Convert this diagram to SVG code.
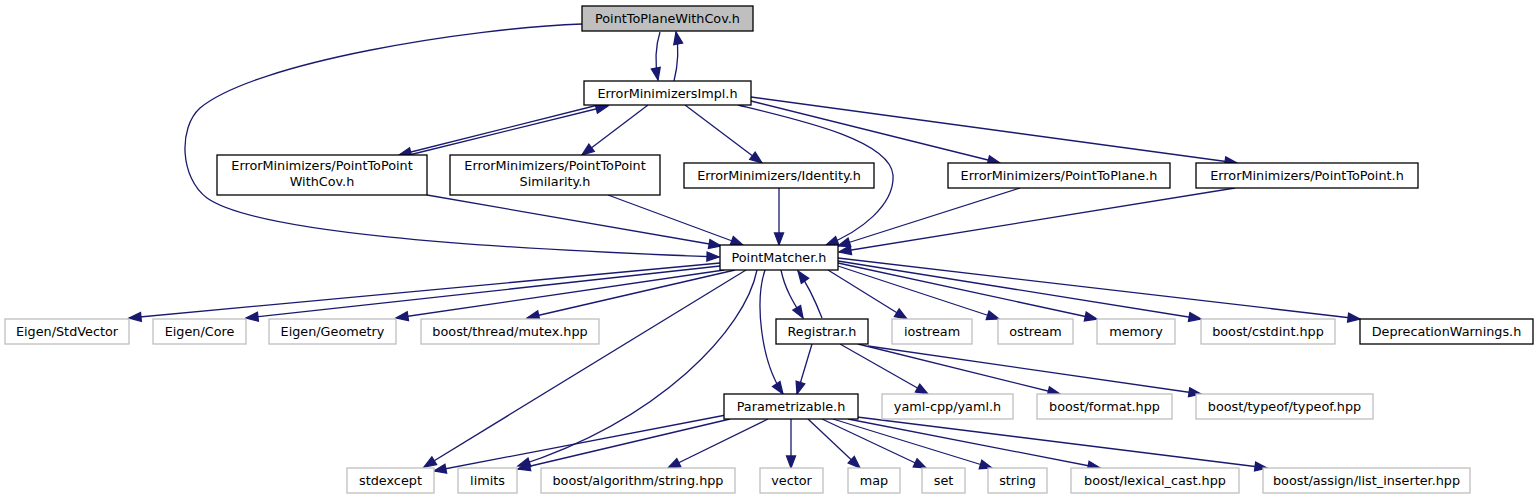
<svg xmlns="http://www.w3.org/2000/svg" width="1538" height="500" viewBox="0 0 1538 500">
<style>
.n rect{fill:#fff;stroke:#000;stroke-width:1.3}
.g rect{fill:#fff;stroke:#bfbfbf;stroke-width:1.3}
.root rect{fill:#bfbfbf;stroke:#000;stroke-width:1.3}
text{font-family:"DejaVu Sans","Liberation Sans",sans-serif;font-size:12.8px;fill:#000;text-anchor:middle}
#edges path{fill:none;stroke:#191970;stroke-width:1.3;marker-end:url(#ah)}
</style>
<defs>
<marker id="ah" markerWidth="13" markerHeight="10" refX="12" refY="4.5" orient="auto" markerUnits="userSpaceOnUse" overflow="visible"><path d="M0,0 L12,4.5 L0,9 z" fill="#191970" stroke="#191970" stroke-width="1.3"/></marker>
</defs>
<rect x="0" y="0" width="1538" height="500" fill="#fff"/>
<g id="edges">
<path d="M660,32 C655,48 655,64 658,80"/>
<path d="M674,81 C678,65 679,48 676,32"/>
<path d="M582,24 C470,28 255,62 200,108 C178,128 180,178 207,198 C255,232 470,248 719,257"/>
<path d="M598,105 L399,155"/>
<path d="M409,155 L608,106"/>
<path d="M648,105 L582,155"/>
<path d="M685,105 L762,163"/>
<path d="M738,105 C800,120 890,140 893,175 C895,205 860,232 826,245"/>
<path d="M751,101 L1000,163"/>
<path d="M751,97 L1237,163"/>
<path d="M427,195 L721,246"/>
<path d="M608,195 L743,245"/>
<path d="M779,188 L779,245"/>
<path d="M1020,188 L838,246"/>
<path d="M1235,188 L839,252"/>
<path d="M720,263 L129,318"/>
<path d="M720,266 L246,318"/>
<path d="M724,270 L396,318"/>
<path d="M735,270 L527,318"/>
<path d="M746,270 L424,467"/>
<path d="M757,270 C745,330 660,420 518,466"/>
<path d="M765,270 C755,300 760,360 783,394"/>
<path d="M781,270 C785,290 795,305 803,318"/>
<path d="M822,318 C815,300 808,285 798,271"/>
<path d="M828,270 L907,319"/>
<path d="M838,266 L999,319"/>
<path d="M838,263 L1097,319"/>
<path d="M838,261 L1201,319"/>
<path d="M838,258 L1360,319"/>
<path d="M812,344 L797,394"/>
<path d="M840,344 L928,394"/>
<path d="M858,344 L1060,394"/>
<path d="M868,346 L1201,394"/>
<path d="M726,415 L434,471"/>
<path d="M730,419 L518,469"/>
<path d="M768,419 L668,468"/>
<path d="M791,419 L791,468"/>
<path d="M808,419 L860,468"/>
<path d="M822,419 L926,468"/>
<path d="M833,419 L992,468"/>
<path d="M848,419 L1100,468"/>
<path d="M857,417 L1267,468"/>
</g>
<g id="n_root" class="root"><rect x="582" y="6" width="171" height="25"/><text x="667.5" y="23">PointToPlaneWithCov.h</text></g>
<g id="n_impl" class="n"><rect x="584" y="81" width="167" height="24"/><text x="667.5" y="97.5">ErrorMinimizersImpl.h</text></g>
<g id="n_ptpcov" class="n"><rect x="217" y="155" width="210" height="40"/><text x="322" y="170">ErrorMinimizers/PointToPoint</text><text x="322" y="186">WithCov.h</text></g>
<g id="n_ptpsim" class="n"><rect x="450" y="155" width="210" height="40"/><text x="555" y="170">ErrorMinimizers/PointToPoint</text><text x="555" y="186">Similarity.h</text></g>
<g id="n_ident" class="n"><rect x="684" y="163" width="190" height="25"/><text x="779" y="180">ErrorMinimizers/Identity.h</text></g>
<g id="n_ptpl" class="n"><rect x="948" y="163" width="222" height="25"/><text x="1059" y="180">ErrorMinimizers/PointToPlane.h</text></g>
<g id="n_ptp" class="n"><rect x="1196" y="163" width="222" height="25"/><text x="1307" y="180">ErrorMinimizers/PointToPoint.h</text></g>
<g id="n_pm" class="n"><rect x="720" y="245" width="118" height="25"/><text x="779" y="262">PointMatcher.h</text></g>
<g id="n_stdvec" class="g"><rect x="5" y="319" width="124" height="25"/><text x="67" y="336">Eigen/StdVector</text></g>
<g id="n_core" class="g"><rect x="153" y="319" width="93" height="25"/><text x="199.5" y="336">Eigen/Core</text></g>
<g id="n_geom" class="g"><rect x="269" y="319" width="127" height="25"/><text x="332.5" y="336">Eigen/Geometry</text></g>
<g id="n_mutex" class="g"><rect x="421" y="319" width="178" height="25"/><text x="510" y="336">boost/thread/mutex.hpp</text></g>
<g id="n_reg" class="n"><rect x="776" y="319" width="92" height="25"/><text x="822" y="336">Registrar.h</text></g>
<g id="n_iostream" class="g"><rect x="892" y="319" width="80" height="25"/><text x="932" y="336">iostream</text></g>
<g id="n_ostream" class="g"><rect x="998" y="319" width="75" height="25"/><text x="1035.5" y="336">ostream</text></g>
<g id="n_memory" class="g"><rect x="1097" y="319" width="78" height="25"/><text x="1136" y="336">memory</text></g>
<g id="n_cstdint" class="g"><rect x="1201" y="319" width="134" height="25"/><text x="1268" y="336">boost/cstdint.hpp</text></g>
<g id="n_depr" class="n"><rect x="1360" y="319" width="173" height="25"/><text x="1446.5" y="336">DeprecationWarnings.h</text></g>
<g id="n_param" class="n"><rect x="724" y="394" width="134" height="25"/><text x="791" y="411">Parametrizable.h</text></g>
<g id="n_yaml" class="g"><rect x="882" y="394" width="131" height="25"/><text x="947.5" y="411">yaml-cpp/yaml.h</text></g>
<g id="n_format" class="g"><rect x="1037" y="394" width="135" height="25"/><text x="1104.5" y="411">boost/format.hpp</text></g>
<g id="n_typeof" class="g"><rect x="1196" y="394" width="177" height="25"/><text x="1284.5" y="411">boost/typeof/typeof.hpp</text></g>
<g id="n_stdexcept" class="g"><rect x="347" y="468" width="87" height="25"/><text x="390.5" y="485">stdexcept</text></g>
<g id="n_limits" class="g"><rect x="458" y="468" width="59" height="25"/><text x="487.5" y="485">limits</text></g>
<g id="n_algo" class="g"><rect x="541" y="468" width="194" height="25"/><text x="638" y="485">boost/algorithm/string.hpp</text></g>
<g id="n_vector" class="g"><rect x="760" y="468" width="63" height="25"/><text x="791.5" y="485">vector</text></g>
<g id="n_map" class="g"><rect x="848" y="468" width="52" height="25"/><text x="874" y="485">map</text></g>
<g id="n_set" class="g"><rect x="922" y="468" width="43" height="25"/><text x="943.5" y="485">set</text></g>
<g id="n_string" class="g"><rect x="988" y="468" width="59" height="25"/><text x="1017.5" y="485">string</text></g>
<g id="n_lexical" class="g"><rect x="1071" y="468" width="168" height="25"/><text x="1155" y="485">boost/lexical_cast.hpp</text></g>
<g id="n_assign" class="g"><rect x="1263" y="468" width="207" height="25"/><text x="1366.5" y="485">boost/assign/list_inserter.hpp</text></g>
</svg>
